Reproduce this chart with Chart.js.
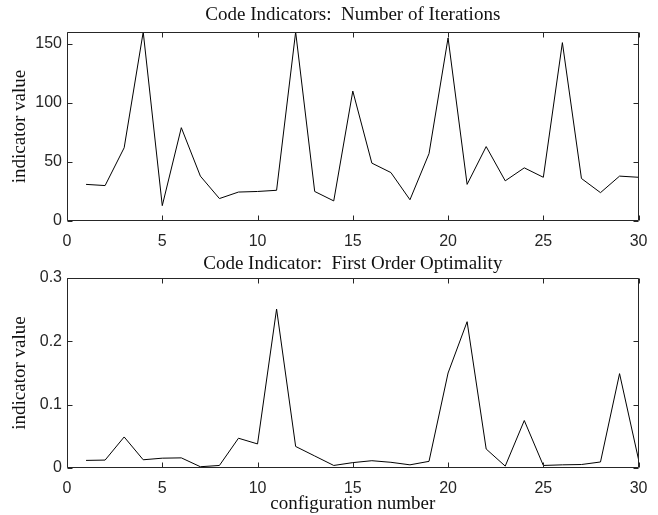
<!DOCTYPE html>
<html lang="en">
<head>
  <meta charset="UTF-8" />
  <title>Code Indicators</title>
  <style>
    * { margin: 0; padding: 0; box-sizing: border-box; }
    body, html {
      width: 658px;
      height: 515px;
      background: #ffffff;
      overflow: hidden;
      position: relative;
    }
    canvas { position: absolute; left: 0; }
    #iterChart { top: 0; }
    #optChart { top: 245px; }
  </style>
</head>
<body>
  <canvas id="iterChart" width="658" height="258"></canvas>
  <canvas id="optChart" width="658" height="270"></canvas>

  <script src="https://cdn.jsdelivr.net/npm/chart.js"></script>
  <script>
    const configs = [1, 2, 3, 4, 5, 6, 7, 8, 9, 10, 11, 12, 13, 14, 15,
                     16, 17, 18, 19, 20, 21, 22, 23, 24, 25, 26, 27, 28, 29, 30];
    const iterations = [31, 30, 62, 160, 13, 79, 38, 19, 24.5, 25, 26, 160, 25, 17, 110,
                        49, 41, 18, 57, 155, 31, 63, 34, 45, 37, 151, 36, 24, 38, 37];
    const optimality = [0.012, 0.0125, 0.049, 0.013, 0.0155, 0.016, 0.002, 0.004, 0.047, 0.038,
                        0.251, 0.034, 0.019, 0.004, 0.0085, 0.0115, 0.009, 0.005, 0.0105, 0.150,
                        0.231, 0.030, 0.003, 0.075, 0.004, 0.005, 0.0055, 0.0095, 0.149, 0.013];
    const xTicks = [0, 5, 10, 15, 20, 25, 30];
    const iterTicks = [0, 50, 100, 150];
    const optTicks = [0, 0.1, 0.2, 0.3];

    const axisColor = '#262626';
    const serif = 'Liberation Serif, Times New Roman, serif';
    const sans = 'Liberation Sans, Arial, sans-serif';
    const serifSize = 19;

    // matlab style box with inward ticks on all four sides
    const boxPlugin = {
      id: 'matlabBox',
      afterDraw(chart) {
        const { ctx, chartArea: a, scales } = chart;
        const len = 5;
        ctx.save();
        ctx.strokeStyle = axisColor;
        ctx.lineWidth = 1;
        ctx.beginPath();
        const l = Math.round(a.left) + 0.5, r = Math.round(a.right) - 0.5;
        const t = Math.round(a.top) + 0.5, b = Math.round(a.bottom) - 0.5;
        ctx.rect(l, t, r - l, b - t);
        scales.x.ticks.forEach(tk => {
          const px = Math.round(scales.x.getPixelForValue(tk.value)) + 0.5;
          ctx.moveTo(px, b); ctx.lineTo(px, b - len);
          ctx.moveTo(px, t); ctx.lineTo(px, t + len);
        });
        scales.y.ticks.forEach(tk => {
          const py = Math.round(scales.y.getPixelForValue(tk.value)) + 0.5;
          ctx.moveTo(l, py); ctx.lineTo(l + len, py);
          ctx.moveTo(r, py); ctx.lineTo(r - len, py);
        });
        ctx.stroke();
        ctx.restore();
      }
    };

    function makeChart(id, opts) {
      const ctx = document.getElementById(id).getContext('2d');
      return new Chart(ctx, {
        type: 'line',
        data: {
          datasets: [{
            data: configs.map((c, i) => ({ x: c, y: opts.values[i] })),
            borderColor: '#000000',
            borderWidth: 1,
            pointRadius: 0,
            tension: 0,
            fill: false
          }]
        },
        options: {
          responsive: false,
          animation: false,
          layout: { autoPadding: false, padding: { left: 0, right: 9, top: 0, bottom: 0 } },
          plugins: {
            legend: { display: false },
            tooltip: { enabled: false },
            title: {
              display: true,
              fullSize: false,
              text: opts.title,
              color: '#111111',
              font: { family: serif, size: serifSize, weight: 'normal' },
              padding: opts.titlePad
            }
          },
          scales: {
            x: {
              type: 'linear',
              min: 0,
              max: 30,
              grid: { display: false, drawTicks: false },
              border: { display: false },
              afterBuildTicks: s => { s.ticks = xTicks.map(v => ({ value: v })); },
              afterFit: s => { s.height = opts.xHeight; },
              ticks: {
                color: axisColor,
                font: { family: sans, size: 16 },
                padding: 10.5,
                maxRotation: 0,
                callback: v => String(v)
              },
              title: {
                display: !!opts.xTitle,
                text: opts.xTitle || '',
                color: '#111111',
                font: { family: serif, size: serifSize, weight: 'normal' },
                padding: { top: 0, bottom: 0 }
              }
            },
            y: {
              min: 0,
              max: opts.yMax,
              grid: { display: false, drawTicks: false },
              border: { display: false },
              afterBuildTicks: s => { s.ticks = opts.yTicks.map(v => ({ value: v })); },
              afterFit: s => { s.width = 67; },
              ticks: {
                color: axisColor,
                font: { family: sans, size: 16 },
                padding: 5,
                callback: v => String(v)
              },
              title: {
                display: true,
                text: 'indicator value',
                color: '#111111',
                font: { family: serif, size: serifSize, weight: 'normal' },
                padding: { top: 8.6, bottom: 0 }
              }
            }
          }
        },
        plugins: [boxPlugin]
      });
    }

    makeChart('iterChart', {
      values: iterations,
      title: 'Code Indicators:  Number of Iterations',
      titlePad: { top: 3.6, bottom: 5.6 },
      yMax: 160,
      yTicks: iterTicks,
      xHeight: 37
    });

    makeChart('optChart', {
      values: optimality,
      title: 'Code Indicator:  First Order Optimality',
      titlePad: { top: 7.6, bottom: 2.6 },
      yMax: 0.3,
      yTicks: optTicks,
      xHeight: 47,
      xTitle: 'configuration number'
    });
  </script>
</body>
</html>
